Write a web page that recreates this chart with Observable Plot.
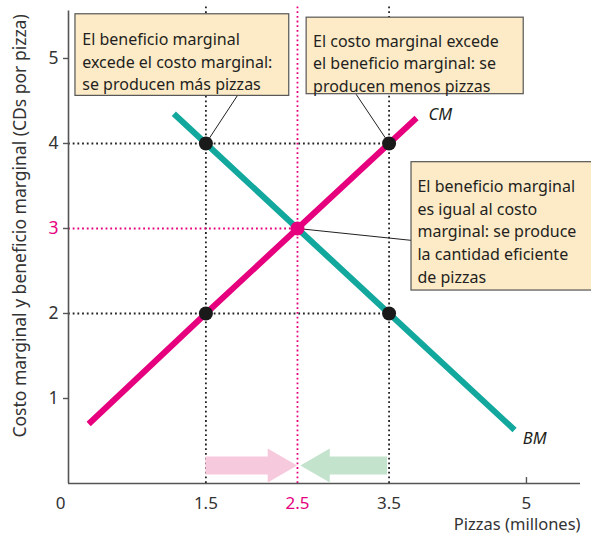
<!DOCTYPE html>
<html><head><meta charset="utf-8">
<script src="https://cdn.jsdelivr.net/npm/d3@7"></script>
<script src="https://cdn.jsdelivr.net/npm/@observablehq/plot@0.6"></script>
<style>body{margin:0;background:#fff}</style>
</head><body><div id="chart"></div>
<script>
// Data
const cmX = [0.22, 1.5, 2.5, 3.5, 3.8];
const cmY = [0.7, 2, 3, 4, 4.3];
const bmX = [1.15, 1.5, 2.5, 3.5, 4.87];
const bmY = [4.35, 4, 3, 2, 0.63];
const blackPtsX = [1.5, 3.5, 1.5, 3.5];
const blackPtsY = [4, 4, 2, 2];
const eqX = [2.5], eqY = [3];
const yTicks = [1, 2, 3, 4, 5];
const xTicks = [1.5, 2.5, 3.5, 5];
const noteTexts = [
  "El beneficio marginal\nexcede el costo marginal:\nse producen más pizzas",
  "El costo marginal excede\nel beneficio marginal: se\nproducen menos pizzas",
  "El beneficio marginal\nes igual al costo\nmarginal: se produce\nla cantidad eficiente\nde pizzas"
];
// annotation placement (data units)
const boxX1 = [0.076, 2.60, 3.745], boxX2 = [2.41, 4.97, 5.75];
const boxY1 = [4.56, 4.58, 2.27], boxY2 = [5.52, 5.48, 3.78];
const textX = [0.15, 2.67, 3.81], textY = [5.35, 5.33, 3.62];
const lineFromX = [1.845, 3.14, 3.745], lineFromY = [4.565, 4.58, 2.86];
const lineToX = [1.5, 3.5, 2.5], lineToY = [4, 4, 3];

const PINK = "#e6007e", TEAL = "#12a89d", INK = "#231f20";
const yTop = 5.635;
const idx = a => a.map((_, i) => i);

const chart = Plot.plot({
  width: 591, height: 536,
  marginLeft: 68, marginRight: 11, marginTop: 4, marginBottom: 53,
  x: {domain: [0, 5.59], axis: null},
  y: {domain: [0, yTop]},
  style: {fontFamily: "'Noto Sans', sans-serif", fontSize: "16px", background: "white", color: INK},
  marks: [
    // dotted guides
    Plot.ruleY([4, 2], {x1: 0, x2: 3.5, stroke: "#222", strokeWidth: 1.8, strokeDasharray: "1.8,2.9"}),
    Plot.ruleX([1.5, 3.5], {y1: 0, y2: yTop, stroke: "#222", strokeWidth: 1.8, strokeDasharray: "1.8,2.9"}),
    Plot.ruleY([3], {x1: 0, x2: 2.5, stroke: PINK, strokeWidth: 1.8, strokeDasharray: "1.8,2.9"}),
    Plot.ruleX([2.5], {y1: 0, y2: yTop, stroke: PINK, strokeWidth: 1.8, strokeDasharray: "1.8,2.9"}),
    // axes
    Plot.ruleX([0], {y1: 0, y2: 5.56, stroke: "#555", strokeWidth: 1.6}),
    Plot.ruleY([0], {x1: 0, x2: 5.59, stroke: "#555", strokeWidth: 1.6}),
    Plot.axisY({ticks: yTicks, tickSize: 5, tickFormat: () => "", label: null, stroke: "#555", strokeWidth: 1.4}),
    Plot.ruleX([5], {y1: 0, y2: 0.07, stroke: "#555", strokeWidth: 1.4}),
    Plot.text(yTicks, {x: 0, y: d => d, dx: -10, textAnchor: "end", fontSize: 17.5, fill: d => d === 3 ? PINK : "#333"}),
    Plot.text(xTicks, {x: d => d, y: 0, dy: 20, fontSize: 17, fill: d => d === 2.5 ? PINK : "#333"}),
    Plot.text(["0"], {x: 0, y: 0, dx: -8, dy: 20, fontSize: 17, fill: "#333"}),
    Plot.text(["Pizzas (millones)"], {x: 5.59, y: 0, dy: 41.5, textAnchor: "end", fontSize: 16.5, fill: "#333"}),
    Plot.text(["Costo marginal y beneficio marginal (CDs por pizza)"], {x: -0.53, y: 3.03, rotate: -90, fontSize: 17.5, fill: "#333"}),
    // arrows
    Plot.ruleY([0.212], {x1: 1.5, x2: 2.5, insetRight: 28, stroke: "#f7c9dc", strokeWidth: 18}),
    Plot.dot([0.212], {x: 2.5, y: d => d, dx: -20, symbol: "triangle", rotate: 90, r: 12.6, fill: "#f7c9dc"}),
    Plot.ruleY([0.212], {x1: 2.5, x2: 3.5, insetLeft: 31, insetRight: 1.5, stroke: "#c3e3cd", strokeWidth: 18}),
    Plot.dot([0.212], {x: 2.5, y: d => d, dx: 22.5, symbol: "triangle", rotate: -90, r: 12.6, fill: "#c3e3cd"}),
    // curves
    Plot.line(idx(cmX), {x: i => cmX[i], y: i => cmY[i], stroke: PINK, strokeWidth: 6, strokeLinecap: "butt"}),
    Plot.line(idx(bmX), {x: i => bmX[i], y: i => bmY[i], stroke: TEAL, strokeWidth: 6, strokeLinecap: "butt"}),
    Plot.text(["CM"], {x: 3.93, y: 4.34, textAnchor: "start", fontStyle: "italic", fontSize: 16.5, fill: INK}),
    Plot.text(["BM"], {x: 4.96, y: 0.53, textAnchor: "start", fontStyle: "italic", fontSize: 16.5, fill: INK}),
    // annotation connectors and boxes
    Plot.link(idx(noteTexts), {x1: i => lineFromX[i], y1: i => lineFromY[i], x2: i => lineToX[i], y2: i => lineToY[i], stroke: INK, strokeWidth: 1}),
    Plot.rect(idx(noteTexts), {x1: i => boxX1[i], x2: i => boxX2[i], y1: i => boxY1[i], y2: i => boxY2[i], fill: "#fdebc8", stroke: "#555", strokeWidth: 1.2}),
    Plot.text(idx(noteTexts), {x: i => textX[i], y: i => textY[i], text: i => noteTexts[i], textAnchor: "start", lineAnchor: "top", lineHeight: 1.42, fontSize: 16, fill: INK}),
    // points
    Plot.dot(idx(blackPtsX), {x: i => blackPtsX[i], y: i => blackPtsY[i], r: 7, fill: "#1a1a1a"}),
    Plot.dot(idx(eqX), {x: i => eqX[i], y: i => eqY[i], r: 7, fill: PINK})
  ]
});
document.getElementById("chart").appendChild(chart);
</script>
</body></html>
